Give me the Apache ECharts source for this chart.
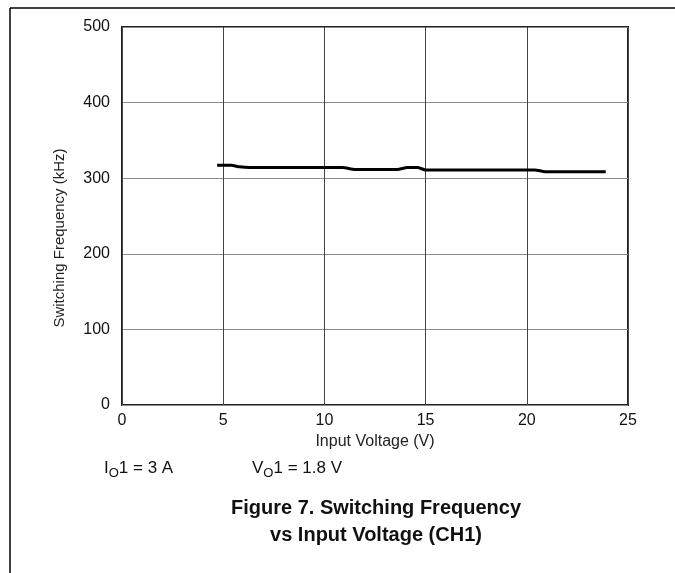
<!DOCTYPE html>
<html><head><meta charset="utf-8">
<script src="https://cdn.jsdelivr.net/npm/echarts@6/dist/echarts.min.js"></script>
<style>html,body{margin:0;padding:0;background:#fff}#c{width:675px;height:573px}</style>
</head><body><div id="c"></div>
<script>
const xTicks = [0, 5, 10, 15, 20, 25];
const yTicks = [0, 100, 200, 300, 400, 500];
const inputVoltage = [4.7, 5.4, 5.8, 6.3, 10.9, 11.5, 13.6, 14.1, 14.6, 15.0, 20.4, 20.9, 23.9];
const switchingFreq = [317, 317, 315, 314, 314, 311.5, 311.5, 314, 314, 311, 311, 308.5, 308.5];

const chart = echarts.init(document.getElementById('c'));
const F = 'Liberation Sans, Arial, sans-serif';
chart.setOption({
  animation: false,
  grid: { left: 122, right: 47, top: 27, bottom: 168, show: true, borderColor: '#222', borderWidth: 2 },
  xAxis: {
    type: 'value', min: xTicks[0], max: xTicks[xTicks.length-1], interval: 5,
    name: 'Input Voltage (V)', nameLocation: 'middle', nameGap: 27,
    nameTextStyle: { fontFamily: F, fontSize: 16, color: '#222' },
    axisLine: { show: false }, axisTick: { show: false },
    axisLabel: { fontFamily: F, fontSize: 16, color: '#111', margin: 8 },
    splitLine: { lineStyle: { color: '#444', width: 1 } }
  },
  yAxis: {
    type: 'value', min: yTicks[0], max: yTicks[yTicks.length-1], interval: 100,
    name: 'Switching Frequency (kHz)', nameLocation: 'middle', nameGap: 55,
    nameTextStyle: { fontFamily: F, fontSize: 15, color: '#222', padding: [0, 44, 0, 0] },
    axisLine: { show: false }, axisTick: { show: false },
    axisLabel: { fontFamily: F, fontSize: 16, color: '#111', margin: 12 },
    splitLine: { lineStyle: { color: '#8a8a8a', width: 1 } }
  },
  series: [{
    type: 'line', showSymbol: false, smooth: 0.2,
    data: inputVoltage.map((v, i) => [v, switchingFreq[i]]),
    lineStyle: { color: '#000', width: 3 }
  }],
  graphic: [
    { type: 'line', shape: { x1: 10, y1: 8, x2: 675, y2: 8 }, style: { stroke: '#000', lineWidth: 1.5 } },
    { type: 'line', shape: { x1: 10, y1: 8, x2: 10, y2: 573 }, style: { stroke: '#000', lineWidth: 1.5 } },
    { type: 'text', left: 104, top: 460, style: {
        text: '{n|I}{s|O}{n|1 = 3 A}',
        rich: { n: { fontFamily: F, fontSize: 17, fill: '#111' }, s: { fontFamily: F, fontSize: 13, fill: '#111', padding: [10, 0, 0, 0] } }
    } },
    { type: 'text', left: 252, top: 460, style: {
        text: '{n|V}{s|O}{n|1 = 1.8 V}',
        rich: { n: { fontFamily: F, fontSize: 17, fill: '#111' }, s: { fontFamily: F, fontSize: 13, fill: '#111', padding: [10, 0, 0, 0] } }
    } },
    { type: 'text', x: 376, y: 498, style: { text: 'Figure 7. Switching Frequency', fontFamily: F, fontSize: 20, fontWeight: 'bold', fill: '#111', textAlign: 'center' } },
    { type: 'text', x: 376, y: 525, style: { text: 'vs Input Voltage (CH1)', fontFamily: F, fontSize: 20, fontWeight: 'bold', fill: '#111', textAlign: 'center' } }
  ]
});
</script></body></html>
